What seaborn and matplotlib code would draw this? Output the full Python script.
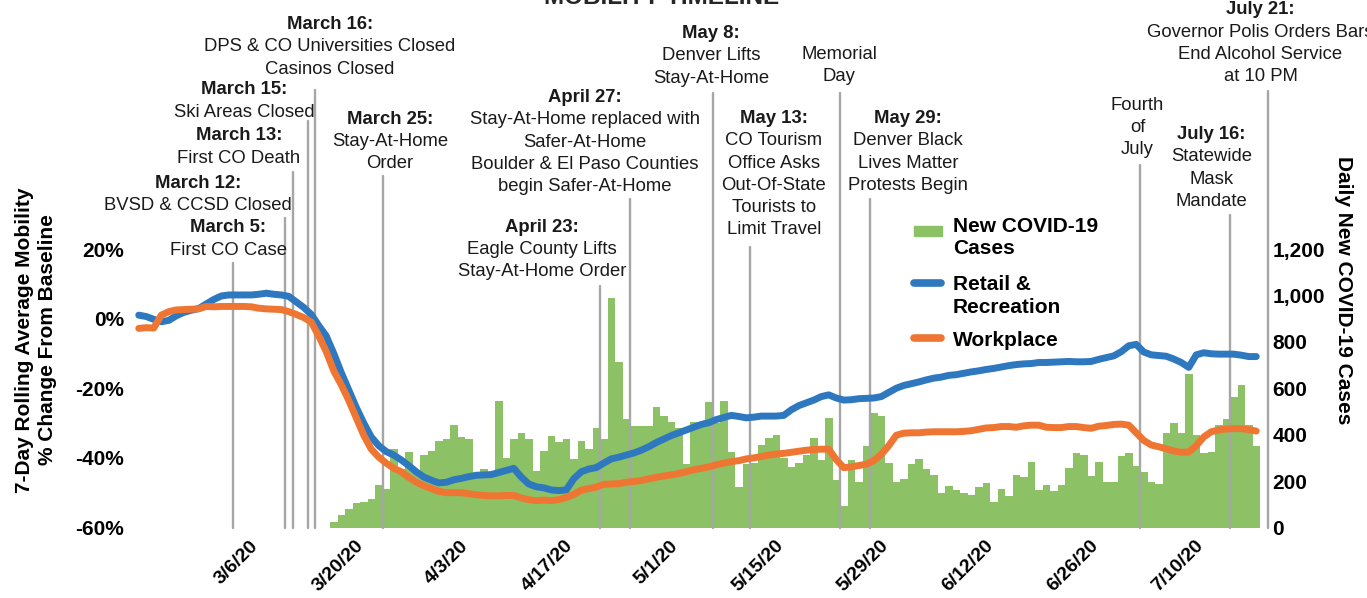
import numpy as np
import pandas as pd
import matplotlib
matplotlib.use("Agg")
import matplotlib.pyplot as plt
import matplotlib.dates as mdates
import matplotlib.transforms as mtransforms
from matplotlib.lines import Line2D
from matplotlib.patches import Rectangle
import seaborn as sns

# ---------------- data ----------------
mobility_start = "2020-02-21"
retail = [
    1.0, 0.6, -0.2, -0.9, -0.5, 0.8, 1.8, 2.4, 2.9, 4.2,
    5.5, 6.5, 6.8, 6.8, 6.8, 6.8, 7.0, 7.3, 7.0, 6.8,
    6.4, 4.8, 3.2, 1.2, -2.0, -5.0, -10.0, -15.5, -20.5, -25.5,
    -30.0, -34.0, -36.5, -38.2, -39.2, -40.6, -42.2, -44.0, -45.5, -46.4,
    -47.2, -47.0, -46.3, -45.9, -45.4, -45.0, -44.9, -44.8, -44.2, -43.6,
    -43.0, -45.5, -47.5, -48.3, -48.6, -49.2, -49.4, -49.2, -46.0, -44.0,
    -43.2, -42.8, -41.5, -40.3, -39.8, -39.2, -38.6, -37.8, -36.8, -35.6,
    -34.6, -33.6, -32.8, -32.0, -31.2, -30.4, -29.9, -29.0, -28.4, -27.8,
    -28.1, -28.5, -28.3, -28.0, -28.0, -28.0, -27.8, -26.2, -25.0, -24.2,
    -23.4, -22.4, -21.9, -22.8, -23.4, -23.3, -23.0, -22.9, -22.8, -22.4,
    -21.2, -20.0, -19.2, -18.7, -18.2, -17.6, -17.1, -16.8, -16.3, -16.1,
    -15.7, -15.3, -15.0, -14.6, -14.3, -13.9, -13.5, -13.2, -13.0, -12.9,
    -12.6, -12.6, -12.5, -12.4, -12.3, -12.4, -12.4, -12.3, -11.7, -11.2,
    -10.7, -9.5, -7.8, -7.4, -9.6, -10.4, -10.6, -10.8, -11.6, -12.6,
    -14.0, -10.4, -9.8, -10.1, -10.2, -10.2, -10.2, -10.5, -10.9, -10.9,
]
workplace = [
    -2.8, -2.6, -2.7, 1.0, 2.0, 2.5, 2.6, 2.7, 2.8, 3.5,
    3.4, 3.5, 3.5, 3.5, 3.5, 3.4, 3.0, 2.8, 2.7, 2.6,
    2.0, 1.2, 0.3, -1.0, -5.0, -9.5, -15.0, -19.0, -23.5, -28.5,
    -33.5, -37.5, -39.8, -41.5, -43.0, -44.0, -45.6, -47.0, -48.0, -48.8,
    -49.6, -50.0, -50.0, -50.0, -50.3, -50.6, -50.8, -50.9, -50.9, -50.8,
    -50.8, -51.5, -52.0, -52.3, -52.1, -52.3, -52.0, -51.4, -50.5, -49.3,
    -48.8, -48.4, -47.6, -47.5, -47.4, -47.0, -46.8, -46.5, -46.0, -45.6,
    -45.2, -44.9, -44.5, -44.0, -43.4, -43.0, -42.6, -42.0, -41.5, -41.1,
    -40.8, -40.3, -40.0, -39.6, -39.2, -38.9, -38.7, -38.4, -38.1, -37.8,
    -37.6, -37.5, -37.5, -40.5, -42.8, -42.6, -42.2, -41.8, -40.8, -39.0,
    -36.5, -33.5, -32.9, -32.8, -32.8, -32.6, -32.5, -32.5, -32.5, -32.5,
    -32.4, -32.2, -31.8, -31.4, -31.3, -31.0, -31.0, -31.2, -30.8, -30.6,
    -30.6, -31.2, -31.3, -31.3, -31.0, -31.0, -31.3, -31.5, -30.9, -30.7,
    -30.4, -30.3, -30.6, -32.8, -35.0, -36.3, -36.8, -37.4, -38.0, -38.4,
    -38.3, -36.5, -34.0, -32.5, -32.0, -31.7, -31.6, -31.6, -31.9, -32.3,
]
cases_start = "2020-03-18"
new_cases = [
    25, 54, 78, 104, 111, 123, 183, 165, 337, 250,
    327, 240, 312, 331, 373, 380, 442, 389, 380, 220,
    252, 230, 547, 298, 380, 406, 380, 245, 331, 394,
    370, 380, 294, 374, 338, 430, 380, 988, 715, 466,
    437, 437, 437, 521, 481, 453, 428, 274, 456, 450,
    540, 450, 547, 327, 173, 272, 280, 356, 384, 399,
    298, 259, 277, 312, 387, 291, 473, 205, 93, 291,
    198, 351, 492, 481, 279, 198, 208, 272, 295, 252,
    226, 150, 179, 162, 147, 140, 173, 190, 111, 165,
    136, 226, 219, 281, 162, 183, 159, 183, 258, 320,
    312, 222, 281, 198, 198, 308, 320, 265, 241, 198,
    188, 406, 449, 406, 662, 400, 323, 327, 442, 466,
    564, 614, 442, 351,
]
tick_dates = ["2020-03-06", "2020-03-20", "2020-04-03", "2020-04-17", "2020-05-01",
              "2020-05-15", "2020-05-29", "2020-06-12", "2020-06-26", "2020-07-10"]
event_dates = ["2020-03-05", "2020-03-12", "2020-03-13", "2020-03-15", "2020-03-16",
               "2020-03-25", "2020-04-23", "2020-04-27", "2020-05-08", "2020-05-13",
               "2020-05-25", "2020-05-29", "2020-07-04", "2020-07-16", "2020-07-21"]
event_heads = ["March 5:", "March 12:", "March 13:", "March 15:", "March 16:",
               "March 25:", "April 23:", "April 27:", "May 8:", "May 13:",
               None, "May 29:", None, "July 16:", "July 21:"]
event_texts = [
    ["First CO Case"],
    ["BVSD & CCSD Closed"],
    ["First CO Death"],
    ["Ski Areas Closed"],
    ["DPS & CO Universities Closed", "Casinos Closed"],
    ["Stay-At-Home", "Order"],
    ["Eagle County Lifts", "Stay-At-Home Order"],
    ["Stay-At-Home replaced with", "Safer-At-Home", "Boulder & El Paso Counties", "begin Safer-At-Home"],
    ["Denver Lifts", "Stay-At-Home"],
    ["CO Tourism", "Office Asks", "Out-Of-State", "Tourists to", "Limit Travel"],
    ["Memorial", "Day"],
    ["Denver Black", "Lives Matter", "Protests Begin"],
    ["Fourth", "of", "July"],
    ["Statewide", "Mask", "Mandate"],
    ["Governor Polis Orders Bars", "End Alcohol Service", "at 10 PM"],
]
left_ticks = [-60, -40, -20, 0, 20]
right_ticks = [0, 200, 400, 600, 800, 1000, 1200]

# ---------------- layout (pixels) ----------------
W, H = 1367, 598
line_tops = [0.949, 1.110, 1.275, 1.461, 1.571, 1.262, 0.867, 1.178, 1.561, 1.008,
             1.561, 1.180, 1.302, 1.122, 1.568]
text_pos = [(228, 226), (198, 181), (239, 134), (244, 88), (330, 22.7),
            (390, 117), (542, 225), (585, 95.7), (711, 31.7), (774, 116.7),
            (839, 52.7), (908, 116.7), (1137.5, 103.3), (1211.5, 132.7), (1260.5, 8)]

GREEN = "#8CC265"
BLUE = "#2E78C0"
ORANGE = "#EF7632"
GRAY = "#A6A6A6"
TXT = "#1a1a1a"

sns.set_theme(style="white")
plt.rcParams["font.family"] = ["Liberation Sans", "DejaVu Sans"]

fig = plt.figure(figsize=(W / 100, H / 100), dpi=100)
ax = fig.add_axes([135 / W, 1 - 527.5 / H, 1132.5 / W, 278.5 / H])
ax2 = ax.twinx()

mob_dates = pd.date_range(mobility_start, periods=len(retail))
case_dates = pd.date_range(cases_start, periods=len(new_cases))
mob = pd.DataFrame({"x": mdates.date2num(mob_dates), "retail": retail, "workplace": workplace})
cdf = pd.DataFrame({"x": mdates.date2num(case_dates), "cases": new_cases})

sns.barplot(data=cdf, x="x", y="cases", native_scale=True, color=GREEN, saturation=1,
            width=1.0, linewidth=0, edgecolor="none", errorbar=None, ax=ax2)

sns.lineplot(data=mob, x="x", y="retail", color=BLUE, lw=5.0, ax=ax, zorder=5,
             solid_capstyle="round", legend=False)
sns.lineplot(data=mob, x="x", y="workplace", color=ORANGE, lw=5.0, ax=ax, zorder=6,
             solid_capstyle="round", legend=False)

ax.set_zorder(ax2.get_zorder() + 1)
ax.patch.set_visible(False)

x0 = mdates.date2num(pd.Timestamp(mobility_start))
ax.set_xlim(x0 - 0.5, x0 + 150.5)
ax.set_ylim(-60, 20)
ax2.set_ylim(0, 1200)

# event lines
for d, top in zip(event_dates, line_tops):
    xd = mdates.date2num(pd.Timestamp(d)) - 0.5
    ax.axvline(xd, ymin=0, ymax=top, color=GRAY, lw=1.7, clip_on=False, zorder=2)

# ticks
tnum = mdates.date2num(pd.to_datetime(tick_dates))
tlab = [f"{t.month}/{t.day}/{t.strftime('%y')}" for t in pd.to_datetime(tick_dates)]
ax.set_xticks(tnum, labels=tlab)
ax.set_yticks(left_ticks, labels=[f"{v}%" for v in left_ticks])
ax2.set_yticks(right_ticks, labels=[f"{v:,}" for v in right_ticks])
ax.set_xlabel("")
ax.set_ylabel("")
ax2.set_ylabel("")
ax2.set_xlabel("")

ax.tick_params(axis="y", length=0, pad=8, labelsize=15, labelcolor="black")
ax.tick_params(axis="x", length=0, pad=7, labelsize=14, labelcolor="black")
ax2.tick_params(axis="y", length=0, pad=3.5, labelsize=15, labelcolor="black")
for lbl in ax.get_yticklabels() + ax2.get_yticklabels():
    lbl.set_fontweight("bold")
offset = mtransforms.ScaledTranslation(0.06, 0, fig.dpi_scale_trans)
for lbl in ax.get_xticklabels():
    lbl.set_fontweight("bold")
    lbl.set_rotation(45)
    lbl.set_ha("right")
    lbl.set_va("top")
    lbl.set_rotation_mode("anchor")
    lbl.set_transform(lbl.get_transform() + offset)

for a in (ax, ax2):
    for s in a.spines.values():
        s.set_visible(False)
    a.grid(False)

# annotation texts
LS = 22.2
for (cx, cy), head, body in zip(text_pos, event_heads, event_texts):
    lines = ([(head, "bold")] if head else []) + [(b, "normal") for b in body]
    for i, (t, wt) in enumerate(lines):
        y = cy + i * LS + 6.5
        fig.text(cx / W, 1 - y / H, t, ha="center", va="baseline", fontsize=13.3,
                 fontweight=wt, color=TXT)

# axis titles
fig.text(36 / W, 1 - 340 / H, "7-Day Rolling Average Mobility\n% Change From Baseline",
         rotation=90, ha="center", va="center", fontsize=15, fontweight="bold",
         linespacing=1.25, color="black")
fig.text(1344 / W, 1 - 290 / H, "Daily New COVID-19 Cases", rotation=270,
         ha="center", va="center", fontsize=15, fontweight="bold", color="black")

# clipped title
fig.text(662 / W, 1 - 4 / H, "MOBILITY TIMELINE", ha="center", va="baseline",
         fontsize=17.5, fontweight="bold", color="#262626")

# legend (drawn in figure space)
fig.add_artist(Rectangle((914 / W, 1 - 235.5 / H), 28 / W, 9.5 / H,
                         transform=fig.transFigure, color=GREEN))
fig.add_artist(Line2D([914 / W, 941 / W], [1 - 283 / H] * 2, transform=fig.transFigure,
                      color=BLUE, lw=5.5, solid_capstyle="round"))
fig.add_artist(Line2D([914 / W, 941 / W], [1 - 338 / H] * 2, transform=fig.transFigure,
                      color=ORANGE, lw=5.5, solid_capstyle="round"))
for t, y in [("New COVID-19", 224), ("Cases", 247), ("Retail &", 283),
             ("Recreation", 305.5), ("Workplace", 338.3)]:
    fig.text(953 / W, 1 - (y + 7.5) / H, t, ha="left", va="baseline", fontsize=15,
             fontweight="bold", color="black")

fig.savefig("out.png", dpi=100)
